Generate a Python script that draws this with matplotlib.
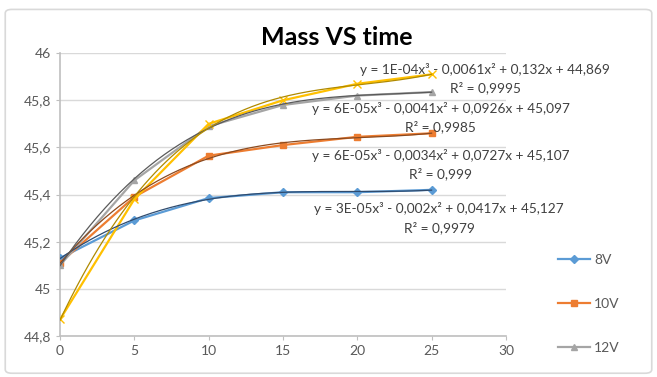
import matplotlib.pyplot as plt
import numpy as np
from matplotlib.patches import FancyBboxPatch

time = [0, 5, 10, 15, 20, 25]
mass_8v = [45.13, 45.29, 45.385, 45.41, 45.41, 45.42]
mass_10v = [45.11, 45.39, 45.565, 45.61, 45.645, 45.66]
mass_12v = [45.10, 45.46, 45.69, 45.78, 45.82, 45.835]
mass_14v = [44.87, 45.38, 45.70, 45.80, 45.87, 45.91]

equations = [
    "y = 3E-05x³ - 0,002x² + 0,0417x + 45,127",
    "y = 6E-05x³ - 0,0034x² + 0,0727x + 45,107",
    "y = 6E-05x³ - 0,0041x² + 0,0926x + 45,097",
    "y = 1E-04x³ - 0,0061x² + 0,132x + 44,869",
]
r2_labels = ["R² = 0,9979", "R² = 0,999", "R² = 0,9985", "R² = 0,9995"]

plt.rcParams['font.family'] = ['Lato', 'DejaVu Sans']

fig = plt.figure(figsize=(6.57, 3.77), dpi=100)
ax = fig.add_axes([0.0913, 0.1088, 0.6787, 0.7502])

# chart border
fig.patches.append(FancyBboxPatch((0.008, 0.01), 0.984, 0.965, boxstyle="round,pad=0,rounding_size=0.01",
                                  transform=fig.transFigure, fill=False, edgecolor='#D9D9D9', lw=1.2))

series = [
    (mass_8v, '8V', '#5B9BD5', '#2F4B6E', 'D', 4),
    (mass_10v, '10V', '#ED7D31', '#8B4A1F', 's', 5),
    (mass_12v, '12V', '#A5A5A5', '#5A5A5A', '^', 5),
    (mass_14v, '_nolegend_', '#FFC000', '#B08A00', 'x', 6),
]

xs = np.linspace(0, 25, 200)
for vals, lab, col, dark, mk, ms in series:
    ax.plot(time, vals, color=col, lw=1.6, marker=mk, markersize=ms,
            markeredgecolor=col, label=lab, zorder=3)
    coef = np.polyfit(time, vals, 3)
    ax.plot(xs, np.polyval(coef, xs), color=dark, lw=0.9, zorder=4)

# trendline labels (data coords)
label_pos = [(25.5, 45.343, 45.258), (25.6, 45.567, 45.487), (25.6, 45.767, 45.686), (28.6, 45.932, 45.852)]
for (cx, y1, y2), eq, r2 in zip(label_pos, equations, r2_labels):
    ax.text(cx, y1, eq, ha='center', va='center', fontsize=9.8, color='#404040', clip_on=False)
    ax.text(cx, y2, r2, ha='center', va='center', fontsize=9.8, color='#404040', clip_on=False)

ax.set_xlim(0, 30)
ax.set_ylim(44.8, 46)
ax.set_xticks(range(0, 31, 5))
yt = np.arange(44.8, 46.01, 0.2)
ax.set_yticks(yt)
ax.set_yticklabels([str(int(round(v))) if abs(v - round(v)) < 1e-6 else f"{v:.1f}".replace('.', ',') for v in yt])
ax.grid(axis='y', color='#D9D9D9', lw=1)
ax.set_axisbelow(True)
for s in ['top', 'right']:
    ax.spines[s].set_visible(False)
for s in ['left', 'bottom']:
    ax.spines[s].set_color('#BFBFBF')
    ax.spines[s].set_linewidth(1.2)
ax.tick_params(axis='both', colors='#BFBFBF', labelcolor='#595959', labelsize=10, length=3)

fig.text(0.513, 0.9, "Mass VS time", ha='center', va='center', fontsize=18, fontweight='bold')

fig.legend(loc='upper left', bbox_to_anchor=(0.83, 0.36), frameon=False, fontsize=10,
           labelspacing=2.3, handlelength=2.3, handletextpad=0.3, labelcolor='#595959')

fig.savefig('out.png', dpi=100)
